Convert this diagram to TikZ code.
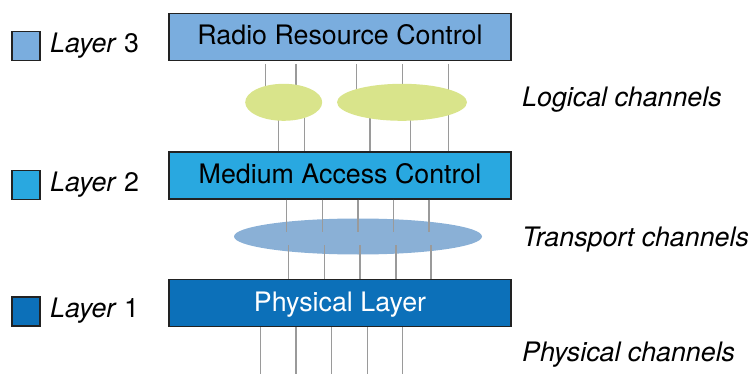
\documentclass[tikz,border=0pt]{standalone}
\usepackage{fontspec}
\setmainfont{TeX Gyre Heros}
\usetikzlibrary{shapes.geometric}
\definecolor{rrcblue}{HTML}{7AADDE}
\definecolor{macblue}{HTML}{29A8E0}
\definecolor{phyblue}{HTML}{0C70B9}
\definecolor{logic}{HTML}{D9E48B}
\definecolor{transp}{HTML}{8AB0D6}
\definecolor{chgray}{HTML}{9A9A9A}
\definecolor{edge}{HTML}{222222}
\begin{document}
\begin{tikzpicture}[x=1pt,y=-1pt,
  every node/.style={font=\fontsize{26.8}{31}\selectfont},
  layerbox/.style={draw=edge, line width=1.3pt, rectangle, minimum width=342pt, minimum height=47pt, inner sep=0pt, text height=19.5pt, text depth=3.5pt},
  legbox/.style={draw=edge, line width=1.2pt, rectangle, minimum width=28pt, minimum height=29pt, inner sep=0pt},
  chanell/.style={ellipse, draw=none, inner sep=0pt},
  chan/.style={draw=chgray, line width=1.5pt},
  lab/.style={anchor=base west, inner sep=0pt}]
\useasboundingbox (0,0) rectangle (752,374);

% layer boxes
\node[layerbox, fill=rrcblue] (rrc) at (340,37) {Radio Resource Control};
\node[layerbox, fill=macblue] (mac) at (340,175.5) {Medium Access Control};
\node[layerbox, fill=phyblue, text=white] (phy) at (340,303) {Physical Layer};

% logical channel lines (under the ellipses)
\foreach \x in {265.7,296,356.7,402.7,448.3} {
  \coordinate (lt) at (\x,64);
  \coordinate (lm) at (\x,102);
  \draw[chan] (lt) -- (lm);
}
\foreach \x in {278.3,304.7,370,410.7,448.3} {
  \coordinate (lm) at (\x,102);
  \draw[chan] (lm) -- (lm |- mac.north);
}

% logical channel ellipses
\node[chanell, fill=logic, minimum width=77pt, minimum height=37pt] (log1) at (283.7,102.3) {};
\node[chanell, fill=logic, minimum width=130pt, minimum height=37pt] (log2) at (402,102.3) {};

% transport channel ellipse
\node[chanell, fill=transp, minimum width=248pt, minimum height=36pt] (tr) at (358,236.5) {};

% transport channel lines (over the ellipse)
\foreach \x in {286.7,322.3,358,393.3,429} {
  \coordinate (tu) at (\x,232);
  \draw[chan] (tu |- mac.south) -- (tu);
}
\foreach \x in {288.7,324.7,360,396,431} {
  \coordinate (tl) at (\x,245);
  \draw[chan] (tl) -- (tl |- phy.north);
}

% physical channel lines
\foreach \x in {260.7,296,331.7,367.3,402.7} {
  \coordinate (pb) at (\x,374);
  \draw[chan] (pb |- phy.south) -- (pb);
}

% legend
\node[legbox, fill=rrcblue] (l3) at (26,46) {};
\node[legbox, fill=macblue] (l2) at (26,185) {};
\node[legbox, fill=phyblue] (l1) at (26,311.5) {};
\node[lab] (t3) at (50,52.3) {\textit{Layer} 3};
\node[lab] (t2) at (50,191.3) {\textit{Layer} 2};
\node[lab] (t1) at (50,317.8) {\textit{Layer} 1};

% channel labels
\node[lab] (lc) at (522,106.7) {\textit{Logical channels}};
\node[lab] (tc) at (522,246.7) {\textit{Transport channels}};
\node[lab] (pc) at (522,361.7) {\textit{Physical channels}};
\end{tikzpicture}
\end{document}
